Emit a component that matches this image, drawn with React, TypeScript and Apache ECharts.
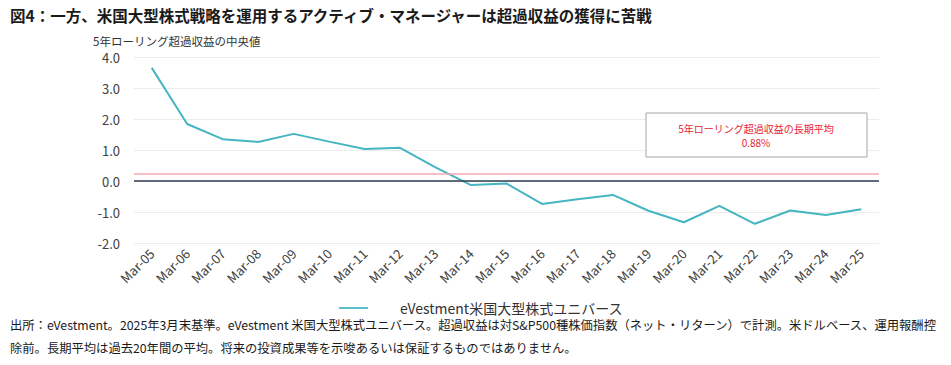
import React, { useEffect, useRef } from "react";
import * as echarts from "echarts";

const categories = [
  "Mar-05", "Mar-06", "Mar-07", "Mar-08", "Mar-09", "Mar-10", "Mar-11",
  "Mar-12", "Mar-13", "Mar-14", "Mar-15", "Mar-16", "Mar-17", "Mar-18",
  "Mar-19", "Mar-20", "Mar-21", "Mar-22", "Mar-23", "Mar-24", "Mar-25",
];
const medianExcess = [
  3.65, 1.84, 1.35, 1.26, 1.52, 1.27, 1.03, 1.07, 0.44, -0.13, -0.08,
  -0.74, -0.59, -0.45, -0.96, -1.33, -0.8, -1.38, -0.95, -1.1, -0.91,
];
const averageLineLevel = 0.25;
const seriesName = "eVestment米国大型株式ユニバース";
const titleText = "図4：一方、米国大型株式戦略を運用するアクティブ・マネージャーは超過収益の獲得に苦戦";
const yAxisTitle = "5年ローリング超過収益の中央値";
const noteLine1 = "5年ローリング超過収益の長期平均";
const noteLine2 = "0.88%";
const footer1 = "出所：eVestment。2025年3月末基準。eVestment 米国大型株式ユニバース。超過収益は対S&P500種株価指数（ネット・リターン）で計測。米ドルベース、運用報酬控";
const footer2 = "除前。長期平均は過去20年間の平均。将来の投資成果等を示唆あるいは保証するものではありません。";

const FONT = "'Noto Sans CJK JP', 'Noto Sans', sans-serif";

export default function App() {
  const ref = useRef<HTMLDivElement>(null);
  useEffect(() => {
    if (!ref.current) return;
    const chart = echarts.init(ref.current, undefined, { renderer: "svg" });
    chart.setOption({
      animation: false,
      backgroundColor: "#ffffff",
      textStyle: { fontFamily: FONT },
      grid: { left: 134, right: 72, top: 57, bottom: 122 },
      legend: {
        left: 334,
        top: 296,
        icon: "rect",
        itemWidth: 29,
        itemHeight: 2,
        textStyle: { fontSize: 14, color: "#333333", fontFamily: FONT, padding: [0, 0, 0, 27] },
        data: [seriesName],
      },
      xAxis: {
        type: "category",
        data: categories,
        boundaryGap: true,
        axisLine: { show: false },
        axisTick: { show: false },
        axisLabel: { rotate: 45, fontSize: 13, color: "#404040", margin: 8, interval: 0, fontFamily: FONT },
      },
      yAxis: {
        type: "value",
        min: -2,
        max: 4,
        interval: 1,
        axisLine: { show: false },
        axisTick: { show: false },
        axisLabel: {
          fontSize: 13,
          color: "#404040",
          margin: 14,
          fontFamily: FONT,
          formatter: (v: number) => v.toFixed(1),
        },
        splitLine: { lineStyle: { color: "#ececec", width: 1 } },
      },
      series: [
        {
          name: seriesName,
          type: "line",
          data: medianExcess,
          symbol: "none",
          lineStyle: { color: "#45b5c2", width: 2 },
          itemStyle: { color: "#5cc1cc" },
          markLine: {
            silent: true,
            symbol: "none",
            label: { show: false },
            data: [
              { yAxis: averageLineLevel, lineStyle: { color: "#f2a7b0", width: 1.5, type: "solid" } },
              { yAxis: 0, lineStyle: { color: "#2e3d4f", width: 1.5, type: "solid" } },
            ],
          },
          z: 3,
        },
      ],
      graphic: [
        {
          type: "text",
          left: 10,
          top: 7,
          style: { text: titleText, fontSize: 15.5, fontWeight: "bold", fill: "#1a1a1a", fontFamily: FONT },
        },
        {
          type: "text",
          left: 93,
          top: 35,
          style: { text: yAxisTitle, fontSize: 11.5, fill: "#333333", fontFamily: FONT },
        },
        {
          type: "rect",
          shape: { x: 646, y: 113, width: 221, height: 44 },
          style: { fill: "#ffffff", stroke: "#a6a6a6", lineWidth: 1 },
          z: 10,
        },
        {
          type: "text",
          x: 756,
          y: 128,
          z: 11,
          style: { text: noteLine1, fontSize: 10, fill: "#e8262f", align: "center", verticalAlign: "middle", fontFamily: FONT },
        },
        {
          type: "text",
          x: 756,
          y: 142,
          z: 11,
          style: { text: noteLine2, fontSize: 10, fill: "#e8262f", align: "center", verticalAlign: "middle", fontFamily: FONT },
        },
        {
          type: "text",
          left: 10,
          top: 319,
          style: { text: footer1, fontSize: 12.3, fill: "#1a1a1a", fontFamily: FONT },
        },
        {
          type: "text",
          left: 10,
          top: 342,
          style: { text: footer2, fontSize: 12.3, fill: "#1a1a1a", fontFamily: FONT },
        },
      ],
    });
    return () => chart.dispose();
  }, []);
  return (
    <div
      ref={ref}
      style={{ position: "absolute", left: 0, top: 0, width: 951, height: 365 }}
    />
  );
}
